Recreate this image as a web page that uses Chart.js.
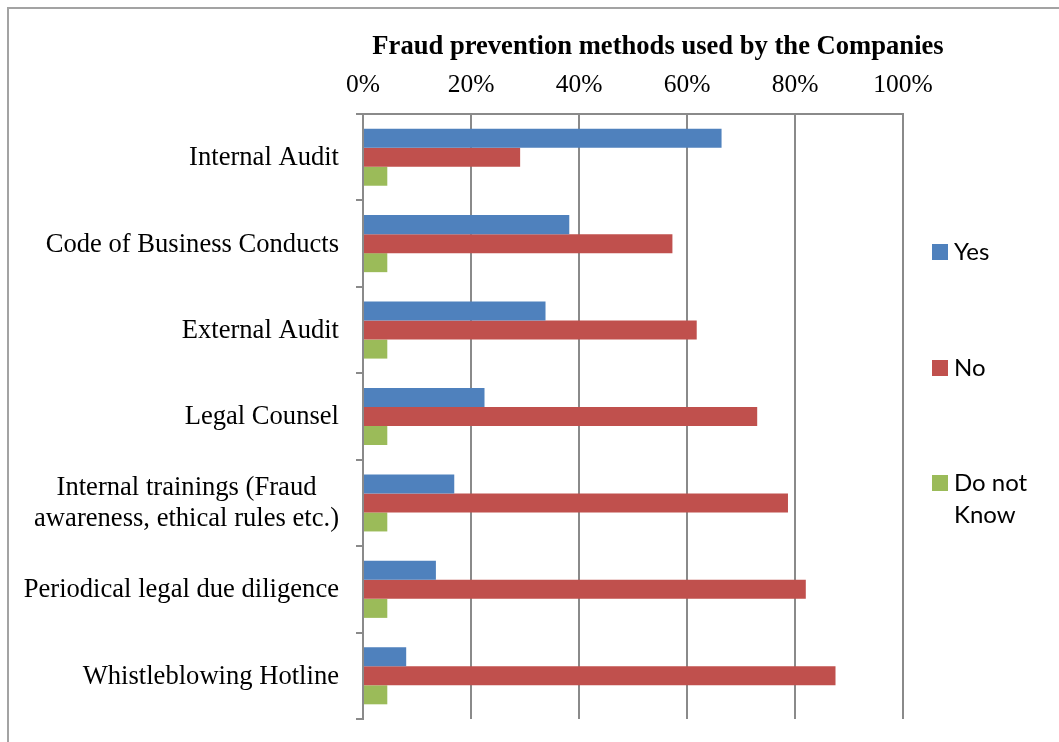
<!DOCTYPE html>
<html>
<head>
<meta charset="utf-8">
<title>Fraud prevention methods used by the Companies</title>
<script src="https://cdn.jsdelivr.net/npm/chart.js@4.4.0/dist/chart.umd.min.js"></script>
<style>
  html, body { margin: 0; padding: 0; background: #fff; overflow: hidden; }
  #wrap { position: relative; width: 1059px; height: 742px; }
</style>
</head>
<body>
<div id="wrap"><canvas id="chart" width="1059" height="742"></canvas></div>
<script>
// Survey answers per prevention method, in percent of companies
const categories = [
  'Internal Audit',
  'Code of Business Conducts',
  'External Audit',
  'Legal Counsel',
  ['Internal trainings (Fraud', 'awareness, ethical rules etc.)'],
  'Periodical legal due diligence',
  'Whistleblowing Hotline'
];
const yesValues      = [66.4, 38.2, 33.8, 22.5, 16.9, 13.5, 8.0];
const noValues       = [29.1, 57.3, 61.8, 73.0, 78.7, 82.0, 87.5];
const dontKnowValues = [4.5, 4.5, 4.5, 4.5, 4.5, 4.5, 4.5];
const seriesNames    = ['Yes', 'No', ['Do not', 'Know']];
const seriesColors   = ['#4F81BD', '#C0504D', '#9BBB59'];
const xTickValues    = [0, 20, 40, 60, 80, 100];
const chartTitle     = 'Fraud prevention methods used by the Companies';

const GRID = '#8a8a8a';
const SERIF = '"Liberation Serif", "Times New Roman", serif';

// Frame, title, category labels and legend drawn around the plot
const decorations = {
  id: 'decorations',
  beforeDraw(chart) {
    const ctx = chart.ctx;
    ctx.save();
    ctx.fillStyle = '#fff';
    ctx.fillRect(0, 0, chart.width, chart.height);
    ctx.strokeStyle = '#a3a3a3';
    ctx.lineWidth = 2;
    ctx.beginPath();
    ctx.moveTo(8, chart.height + 5);
    ctx.lineTo(8, 8);
    ctx.lineTo(chart.width + 5, 8);
    ctx.stroke();
    ctx.restore();
  },
  afterDraw(chart) {
    const ctx = chart.ctx;
    const ys = chart.scales.y;
    const area = chart.chartArea;
    ctx.save();
    ctx.fillStyle = '#000';
    ctx.textBaseline = 'middle';

    // title
    ctx.font = 'bold 26.6px ' + SERIF;
    ctx.textAlign = 'center';
    ctx.fillText(chartTitle, 658, 47);

    // category labels, each multi-line label centred on its own lines
    ctx.font = '26.6px ' + SERIF;
    const labelRight = ys.right - 24;
    const lineH = 31;
    categories.forEach((lab, i) => {
      const lines = Array.isArray(lab) ? lab : [lab];
      const cy = ys.getPixelForValue(i) + 1;
      const maxW = Math.max(...lines.map(l => ctx.measureText(l).width));
      lines.forEach((l, k) => {
        ctx.fillText(l, labelRight - maxW / 2, cy + (k - (lines.length - 1) / 2) * lineH);
      });
    });

    // legend
    ctx.font = '24px Lato, "Open Sans", sans-serif';
    ctx.textAlign = 'left';
    const lx = area.right + 29;
    const legendY = [252, 368, 483];
    seriesNames.forEach((name, i) => {
      const lines = Array.isArray(name) ? name : [name];
      ctx.fillStyle = seriesColors[i];
      ctx.fillRect(lx, legendY[i] - 8, 16, 16);
      ctx.fillStyle = '#000';
      lines.forEach((l, k) => ctx.fillText(l, lx + 22, legendY[i] + k * 32));
    });
    ctx.restore();
  }
};

new Chart(document.getElementById('chart'), {
  type: 'bar',
  data: {
    labels: categories,
    datasets: [
      { label: 'Yes', data: yesValues, backgroundColor: seriesColors[0] },
      { label: 'No', data: noValues, backgroundColor: seriesColors[1] },
      { label: 'Do not Know', data: dontKnowValues, backgroundColor: seriesColors[2] }
    ]
  },
  options: {
    indexAxis: 'y',
    responsive: false,
    animation: false,
    layout: { padding: { left: 0, top: 0, right: 156, bottom: 23 } },
    datasets: { bar: { categoryPercentage: 0.66, barPercentage: 1.0, borderWidth: 0 } },
    plugins: { legend: { display: false }, tooltip: { enabled: false }, title: { display: false } },
    scales: {
      x: {
        type: 'linear',
        position: 'top',
        min: 0,
        max: 100,
        afterBuildTicks: s => { s.ticks = xTickValues.map(v => ({ value: v })); },
        afterFit: s => { s.height = 114; },
        ticks: {
          callback: v => v + '%',
          color: '#000',
          font: { family: SERIF, size: 25.5 },
          padding: 13,
          maxRotation: 0
        },
        grid: { color: GRID, lineWidth: 2, drawTicks: false },
        border: { display: true, color: GRID, width: 2 }
      },
      y: {
        type: 'category',
        afterFit: s => { s.width = 363; },
        ticks: { display: false },
        grid: { offset: true, drawOnChartArea: false, drawTicks: true, tickLength: 7, color: GRID, lineWidth: 2 },
        border: { display: true, color: GRID, width: 2 }
      }
    }
  },
  plugins: [decorations]
});
</script>
</body>
</html>
